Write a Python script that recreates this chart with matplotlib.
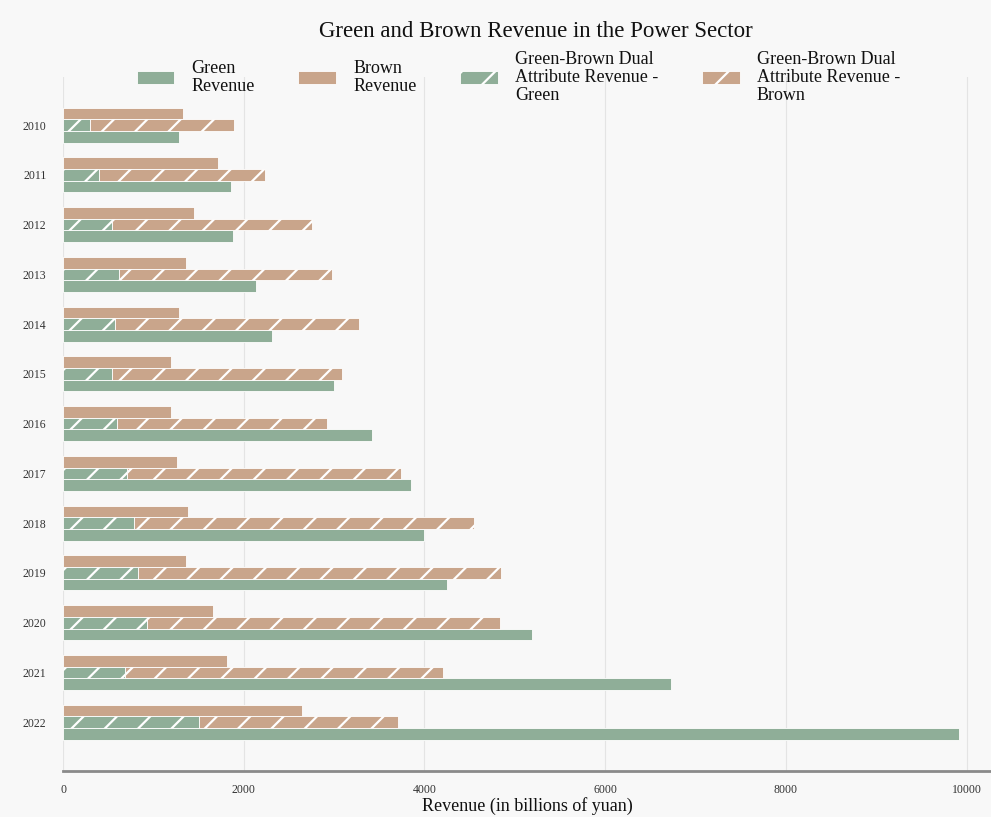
import numpy as np
import matplotlib
matplotlib.use("Agg")
from matplotlib import pyplot as plt

# data (billions of yuan)
years = ['2010', '2011', '2012', '2013', '2014', '2015', '2016',
         '2017', '2018', '2019', '2020', '2021', '2022']
green_rev = [1280, 1860, 1880, 2140, 2310, 3000, 3420, 3850, 4000, 4250, 5190, 6730, 9920]
brown_rev = [1330, 1720, 1450, 1360, 1280, 1200, 1190, 1260, 1380, 1360, 1660, 1820, 2650]
dual_green = [300, 400, 540, 620, 580, 540, 600, 710, 790, 830, 930, 690, 1510]
dual_total = [1890, 2240, 2760, 2980, 3280, 3090, 2920, 3740, 4550, 4850, 4840, 4200, 3710]
dual_brown = [t - g for t, g in zip(dual_total, dual_green)]

labels = ['Green\nRevenue', 'Brown\nRevenue',
          'Green-Brown Dual\nAttribute Revenue -\nGreen',
          'Green-Brown Dual\nAttribute Revenue -\nBrown']

GREEN = '#8fae98'
BROWN = '#c9a58b'
BG = '#f8f8f8'

plt.rcParams['font.family'] = ['Liberation Serif', 'DejaVu Serif']
plt.rcParams['hatch.linewidth'] = 1.6

fig = plt.figure(figsize=(9.91, 8.17), dpi=100, facecolor=BG)
ax = fig.add_axes([0.0636, 0.0563, 0.9364, 0.8497], facecolor=BG)

y = np.arange(len(years))
h = 0.235

b1 = ax.barh(y + h, green_rev, height=h, color=GREEN, edgecolor='white', linewidth=0.6,
             label=labels[0], zorder=3)
b2 = ax.barh(y - h, brown_rev, height=h, color=BROWN, edgecolor='white', linewidth=0.6,
             label=labels[1], zorder=3)
b3 = ax.barh(y, dual_green, height=h, color=GREEN, edgecolor='white', linewidth=0.6,
             hatch='/', label=labels[2], zorder=3)
b4 = ax.barh(y, dual_brown, left=dual_green, height=h, color=BROWN, edgecolor='white',
             linewidth=0.6, hatch='/', label=labels[3], zorder=3)

ax.set_ylim(len(years) - 0.02, -0.97)
ax.set_yticks(y)
ax.set_yticklabels(years, fontsize=8.5, color='#333333')
ax.set_xlim(0, 10270)
ax.set_xticks([0, 2000, 4000, 6000, 8000, 10000])
ax.set_xticklabels(['0', '2000', '4000', '6000', '8000', '10000'], fontsize=8.5, color='#333333')
ax.tick_params(axis='both', length=0)
ax.tick_params(axis='x', pad=9)
ax.tick_params(axis='y', pad=12)

ax.grid(axis='x', color='#e4e4e4', linewidth=0.8, zorder=0)
for s in ['top', 'right', 'left']:
    ax.spines[s].set_visible(False)
ax.spines['bottom'].set_color('#8a8a8a')
ax.spines['bottom'].set_linewidth(2.0)

ax.set_xlabel('Revenue (in billions of yuan)', fontsize=13, color='#111111', labelpad=1)

fig.text(0.541, 0.961, 'Green and Brown Revenue in the Power Sector',
         ha='center', va='center', fontsize=16.5, color='#111111')

leg = fig.legend(handles=[b1, b2, b3, b4], loc='center', ncol=4,
                 bbox_to_anchor=(0.523, 0.905), frameon=False, fontsize=13,
                 handlelength=2.1, handleheight=0.72, handletextpad=0.95,
                 columnspacing=2.4)
for t in leg.get_texts():
    t.set_linespacing(1.08)
    t.set_color('#111111')

fig.savefig('out.png', dpi=100, facecolor=BG)
